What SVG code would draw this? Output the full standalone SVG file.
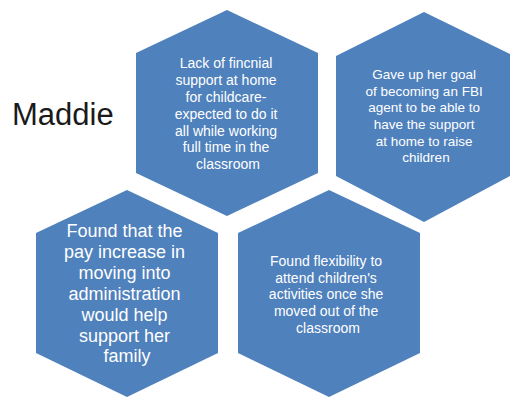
<svg xmlns="http://www.w3.org/2000/svg" width="512" height="398" viewBox="0 0 512 398">
  <style>
    .hex { fill: #4F81BD; stroke: none; }
    .lbl { font-family: "Liberation Sans", Arial, sans-serif; fill: #FFFFFF; text-anchor: middle; }
    .title { font-family: "Liberation Sans", Arial, sans-serif; fill: #1A1A1A; font-size: 31px; }
  </style>
  <rect width="512" height="398" fill="#FFFFFF"/>

  <text class="title" x="12" y="125">Maddie</text>

  <g id="hex-support">
    <polygon class="hex" points="227,10 318,53 318,173 227,216 136,173 136,53"/>
    <text class="lbl" font-size="14" x="228">
      <tspan x="228" y="68">Lack of fincnial</tspan>
      <tspan x="228" y="85">support at home</tspan>
      <tspan x="228" y="102">for childcare-</tspan>
      <tspan x="228" y="119">expected to do it</tspan>
      <tspan x="228" y="136">all while working</tspan>
      <tspan x="228" y="152">full time in the</tspan>
      <tspan x="228" y="169">classroom</tspan>
    </text>
  </g>

  <g id="hex-goal">
    <polygon class="hex" points="424,12 510,54 510,176 424,222 336,176 336,56"/>
    <text class="lbl" font-size="13.5">
      <tspan x="426" y="79">Gave up her goal</tspan>
      <tspan x="426" y="96">of becoming an FBI</tspan>
      <tspan x="426" y="112">agent to be able to</tspan>
      <tspan x="426" y="129">have the support</tspan>
      <tspan x="426" y="146">at home to raise</tspan>
      <tspan x="426" y="162">children</tspan>
    </text>
  </g>

  <g id="hex-pay">
    <polygon class="hex" points="127,190 218,233 218,353 127,397 36,353 36,233"/>
    <text class="lbl" font-size="18">
      <tspan x="127" y="237">Found that the</tspan>
      <tspan x="127" y="258">pay increase in</tspan>
      <tspan x="127" y="279">moving into</tspan>
      <tspan x="127" y="300">administration</tspan>
      <tspan x="127" y="321">would help</tspan>
      <tspan x="127" y="342">support her</tspan>
      <tspan x="127" y="362">family</tspan>
    </text>
  </g>

  <g id="hex-flexibility">
    <polygon class="hex" points="329,190 420,233 420,353 329,397 238,353 238,233"/>
    <text class="lbl" font-size="14">
      <tspan x="328" y="266">Found flexibility to</tspan>
      <tspan x="328" y="283">attend children's</tspan>
      <tspan x="328" y="299">activities once she</tspan>
      <tspan x="328" y="316">moved out of the</tspan>
      <tspan x="328" y="333">classroom</tspan>
    </text>
  </g>

  <g id="connectors"/>
</svg>
